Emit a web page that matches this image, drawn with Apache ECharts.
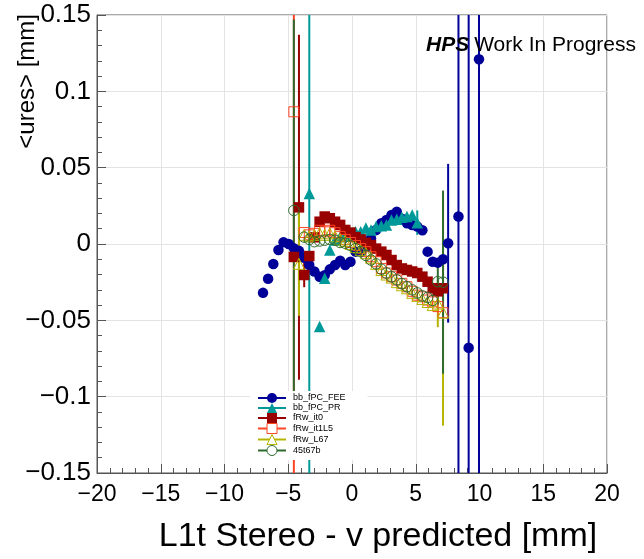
<!DOCTYPE html>
<html>
<head>
<meta charset="utf-8">
<script src="https://cdn.jsdelivr.net/npm/echarts@6/dist/echarts.min.js"></script>
<style>html,body{margin:0;padding:0;background:#fff;}#c{width:644px;height:559px;}</style>
</head>
<body>
<div id="c"></div>
<script>
// ---- data ----
const binCenters = [-6.98,-6.58,-6.17,-5.77,-5.37,-4.96,-4.56,-4.16,-3.75,-3.35,-2.95,-2.54,-2.14,-1.74,-1.33,-0.93,-0.53,-0.12,0.28,0.68,1.09,1.49,1.89,2.30,2.70,3.10,3.51,3.91,4.31,4.72,5.12,5.52,5.93,6.33,6.73,7.14,7.54,7.94,8.35,8.75,9.15,9.55,9.96];

const seriesNames = ['bb_fPC_FEE','bb_fPC_PR','fRw_it0','fRw_it1L5','fRw_L67','45t67b'];

const feeY = [-0.032,-0.0228,-0.0131,-0.0039,0.0011,0.0,-0.0028,-0.0045,-0.009,-0.0138,-0.018,-0.0214,-0.0205,-0.0166,-0.0138,-0.011,-0.0138,-0.0116,-0.005,-0.0045,-0.002,0.0037,0.0092,0.0136,0.0157,0.019,0.0212,0.0165,0.0136,0.0125,0.0115,0.009,-0.005,-0.0116,-0.0122,-0.010,0.0005,null,0.018,null,-0.068,null,0.121];
const feeErr = [0,0,0,0,0,0,0,0,0,0,0,0,0,0,0,0,0,0,0,0,0,0,0,0,0,0,0,0,0,0,0,0,0,0,0,0,0.052,0,0.4,0,0.4,0,0.4];

const prY = [null,null,null,null,null,null,null,null,null,0.033,null,-0.054,-0.0225,-0.004,0.0026,0.0048,0.006,0.005,0.008,0.008,0.0105,0.0092,0.0114,0.012,0.0125,0.0157,0.0162,0.0175,0.018,0.019,0.014,null,null,null,null,null,null,null,null,null,null,null,null];
const prErr = [0,0,0,0,0,0,0,0,0,0.3,0,0,0,0,0,0,0,0,0,0,0,0,0,0,0,0,0,0,0,0,0.008,0,0,0,0,0,0,0,0,0,0,0,0];

const it0Y = [null,null,null,null,null,null,-0.0085,0.024,-0.0203,-0.0079,0.0044,0.0146,0.018,0.0169,0.0146,0.0125,0.0092,0.0075,0.0045,0.003,0.0008,-0.0007,-0.003,-0.005,-0.0072,-0.0105,-0.0138,-0.016,-0.017,-0.018,-0.019,-0.0214,-0.0247,-0.029,-0.031,-0.029,null,null,null,null,null,null,null];
const it0Err = [0,0,0,0,0,0,0,0.113,0.008,0,0,0,0,0,0,0,0,0,0,0,0,0,0,0,0,0,0,0,0,0,0,0,0,0,0,0.004,0,0,0,0,0,0,0];

const it1L5Y = [null,null,null,null,null,null,0.0866,null,0.0075,0.006,0.007,0.009,0.008,0.009,0.0074,0.005,0.003,0.001,-0.001,-0.003,-0.005,-0.0083,-0.0116,-0.016,-0.019,-0.0214,-0.0236,-0.0258,-0.028,-0.031,-0.0335,-0.0346,-0.0367,-0.0379,-0.041,-0.045,null,null,null,null,null,null,null];
const it1L5Err = [0,0,0,0,0,0,0.3,0,0,0,0,0,0,0,0,0,0,0,0,0,0,0,0,0,0,0,0,0,0,0,0,0,0,0,0,0.005,0,0,0,0,0,0,0];

const l67Y = [null,null,null,null,null,null,null,-0.013,0.006,0.005,0.006,0.007,0.006,0.007,0.005,0.003,0.002,0.0,-0.002,-0.004,-0.006,-0.009,-0.013,-0.017,-0.020,-0.022,-0.025,-0.027,-0.029,-0.032,-0.034,-0.036,-0.038,-0.040,-0.039,-0.045,null,null,null,null,null,null,null];
const l67Err = [0,0,0,0,0,0,0,0.034,0,0,0,0,0,0,0,0,0,0,0,0,0,0,0,0,0,0,0,0,0,0,0,0,0,0,0.0155,0.074,0,0,0,0,0,0,0];

const t67bY = [null,null,null,null,null,null,0.022,null,0.0045,0.003,0.0015,0.002,0.0025,0.003,0.0025,0.001,0.0005,-0.001,-0.003,-0.005,-0.0075,-0.0105,-0.013,-0.0165,-0.019,-0.0215,-0.0235,-0.026,-0.028,-0.030,-0.032,-0.034,-0.035,-0.037,-0.0247,-0.025,null,null,null,null,null,null,null];
const t67bErr = [0,0,0,0,0,0,0.125,0,0,0,0,0,0,0,0,0,0,0,0,0,0,0,0,0,0,0,0,0,0,0,0,0,0,0,0.015,0.06,0,0,0,0,0,0,0];

const xTicks = {min:-20, max:20, interval:5};
const yTicks = {min:-0.15, max:0.15, interval:0.05};

// ---- styling ----
const FONT = 'Liberation Sans, Arial, Helvetica, sans-serif';
const styles = [
  {color:'#000099', symbol:'circle', size:10.5, hollow:false},
  {color:'#009999', symbol:'triangle', size:11.5, hollow:false},
  {color:'#990000', symbol:'rect', size:10.5, hollow:false},
  {color:'#ff4422', symbol:'rect', size:10, hollow:true},
  {color:'#b5b500', symbol:'triangle', size:11, hollow:true},
  {color:'#2f6b2f', symbol:'circle', size:10.5, hollow:true}
];
const ys = [feeY, prY, it0Y, it1L5Y, l67Y, t67bY];
const errs = [feeErr, prErr, it0Err, it1L5Err, l67Err, t67bErr];

function pts(y){ const o=[]; y.forEach((v,i)=>{ if(v!==null) o.push([binCenters[i], v]); }); return o; }
function errPts(y,e){ const o=[]; y.forEach((v,i)=>{ if(v!==null && e[i]>0) o.push([binCenters[i], v, e[i]]); }); return o; }
function errRender(color){
  return function(params, api){
    const x=api.value(0), y=api.value(1), e=api.value(2);
    const t=api.coord([x,y+e]), b=api.coord([x,y-e]);
    const cs=params.coordSys;
    const y1=Math.max(cs.y,t[1]), y2=Math.min(cs.y+cs.height,b[1]);
    return {type:'line', shape:{x1:t[0],y1:y1,x2:t[0],y2:y2}, style:{stroke:color,lineWidth:2}};
  };
}

const series=[];
seriesNames.forEach((n,i)=>{
  const s=styles[i];
  series.push({type:'custom', name:n+'_err', data:errPts(ys[i],errs[i]), renderItem:errRender(s.color), silent:true, encode:{x:0,y:1}});
  series.push({
    type:'line', name:n, data:pts(ys[i]), symbol:s.symbol, symbolSize:s.size, showSymbol:true, showAllSymbol:true,
    lineStyle:{opacity:0}, silent:true, emphasis:{disabled:true},
    itemStyle: s.hollow ? {color:'rgba(0,0,0,0)', borderColor:s.color, borderWidth:1} : {color:s.color}
  });
});

function fmt(v){ let s=String(+(+v).toFixed(3)); return s.replace('-', '\u2212'); }

const chart=echarts.init(document.getElementById('c'), null, {renderer:'canvas'});
chart.setOption({
  animation:false,
  backgroundColor:'#fff',
  textStyle:{fontFamily:FONT},
  title:{
    left:421, top:28,
    text:'{a|HPS} {b|Work In Progress}',
    textStyle:{fontWeight:'normal', rich:{
      a:{fontFamily:FONT,fontSize:21,fontWeight:'bold',fontStyle:'italic',color:'#000',lineHeight:24},
      b:{fontFamily:FONT,fontSize:21,fontWeight:'normal',color:'#000',lineHeight:24}
    }}
  },
  graphic:[{type:'text', x:27, y:14, rotation:Math.PI/2, silent:true,
    style:{text:'<ures> [mm]', fontFamily:FONT, fontSize:24, fill:'#000', align:'right', verticalAlign:'middle'}}],
  legend:{
    orient:'vertical', left:250, top:391, itemWidth:28, itemHeight:12.5, itemGap:0,
    backgroundColor:'#fff', padding:[2,22,4,7],
    textStyle:{fontFamily:FONT, fontSize:9, color:'#000', padding:[0,0,0,2]},
    data: seriesNames.map((n,i)=>({name:n,
      itemStyle: styles[i].hollow ? {color:'#fff', borderColor:styles[i].color, borderWidth:1} : {color:styles[i].color},
      lineStyle:{color:styles[i].color, width:2, opacity:1}}))
  },
  grid:{left:97, right:37, top:15, bottom:86, show:true, borderColor:'#555', borderWidth:1, backgroundColor:'transparent'},
  xAxis:{
    type:'value', min:xTicks.min, max:xTicks.max, interval:xTicks.interval,
    name:'L1t Stereo - v predicted [mm]', nameLocation:'middle', nameGap:47,
    nameTextStyle:{fontFamily:FONT, fontSize:34, color:'#000', padding:[0,0,0,52], verticalAlign:'top'},
    axisLine:{show:true, onZero:false, lineStyle:{color:'#555'}},
    axisTick:{show:true, inside:true, length:9, lineStyle:{color:'#555'}},
    minorTick:{show:true, splitNumber:5, length:5, lineStyle:{color:'#555'}},
    splitLine:{show:true, lineStyle:{color:'#e3e3e3', width:1}},
    axisLabel:{fontFamily:FONT, fontSize:23, color:'#000', margin:10, formatter:fmt}
  },
  yAxis:{
    type:'value', min:yTicks.min, max:yTicks.max, interval:yTicks.interval,
    axisLine:{show:true, onZero:false, lineStyle:{color:'#555'}},
    axisTick:{show:true, inside:true, length:9, lineStyle:{color:'#555'}},
    minorTick:{show:true, splitNumber:5, length:5, lineStyle:{color:'#555'}},
    splitLine:{show:true, lineStyle:{color:'#e3e3e3', width:1}},
    axisLabel:{fontFamily:FONT, fontSize:26, color:'#000', margin:6, formatter:fmt}
  },
  series:series
});
</script>
</body>
</html>
